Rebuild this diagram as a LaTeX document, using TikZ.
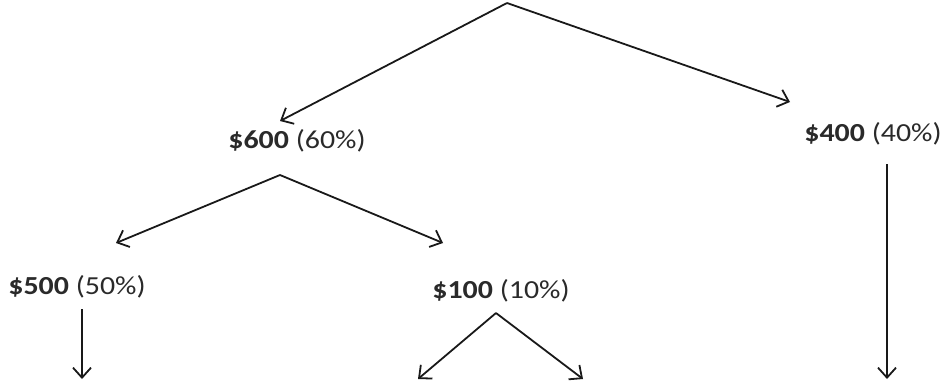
\documentclass[tikz,border=0pt]{standalone}
\usepackage{fontspec}
\setmainfont{Carlito}
\usetikzlibrary{arrows.meta}
\definecolor{txt}{HTML}{2A2A2A}
\newcommand{\lbl}[2]{\scalebox{1.15}[1]{\textbf{#1} #2}}
\tikzset{
  conn/.style={draw=black!90, line width=1.8pt, -{Straight Barb[length=10pt,width=18pt,line width=1.8pt]}},
  amount/.style={inner sep=0pt, text=txt, font=\fontsize{26}{30}\selectfont},
}
\begin{document}
\begin{tikzpicture}[x=1pt,y=-1pt]
\useasboundingbox (0,0) rectangle (940,381);
% apexes and tips
\coordinate (a0) at (507,3);
\coordinate (t600) at (280,121);
\coordinate (t400) at (790,102);
\coordinate (a600) at (280,175);
\coordinate (t500) at (116,243);
\coordinate (t100) at (443,243);
\coordinate (s500) at (82,309);
\coordinate (e500) at (82,379);
\coordinate (a100) at (496,313);
\coordinate (l100) at (418,379);
\coordinate (r100) at (583,379);
\coordinate (s400) at (887,164);
\coordinate (e400) at (887,379);
% labels
\node[amount] (n600) at (297,141) {\lbl{\$600}{(60\%)}};
\node[amount] (n400) at (873,134) {\lbl{\$400}{(40\%)}};
\node[amount] (n500) at (77,287) {\lbl{\$500}{(50\%)}};
\node[amount] (n100) at (501,291) {\lbl{\$100}{(10\%)}};
% connectors
\draw[conn] (a0) -- (t600);
\draw[conn] (a0) -- (t400);
\draw[conn] (a600) -- (t500);
\draw[conn] (a600) -- (t100);
\draw[conn] (s500) -- (e500);
\draw[conn] (a100) -- (l100);
\draw[conn] (a100) -- (r100);
\draw[conn] (s400) -- (e400);
\end{tikzpicture}
\end{document}
